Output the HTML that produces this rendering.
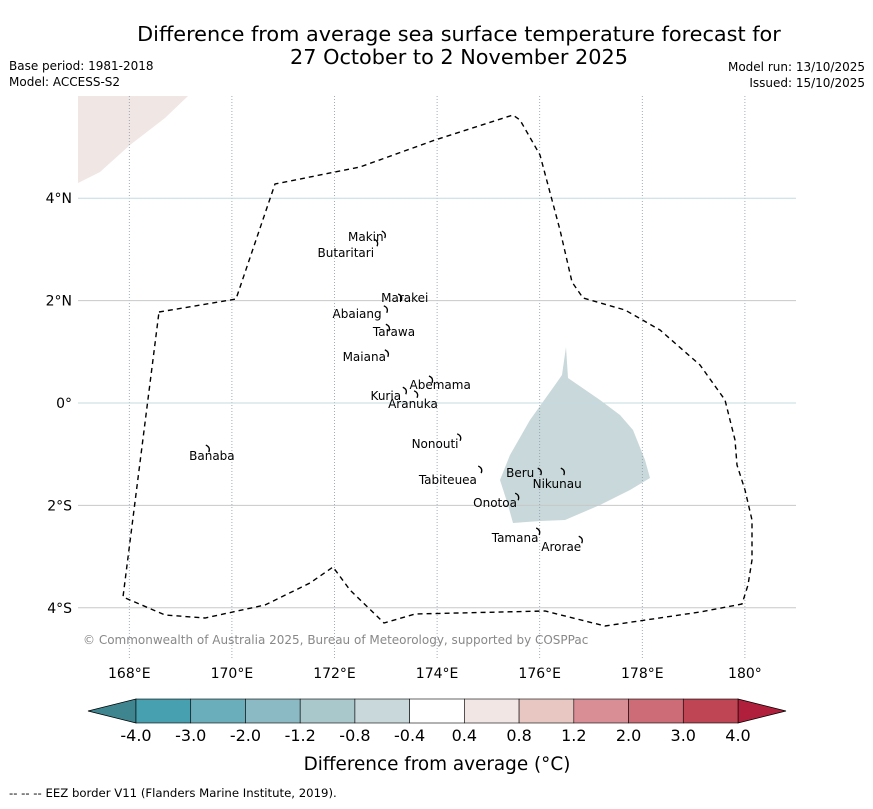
<!DOCTYPE html>
<html><head><meta charset="utf-8"><style>
body{margin:0;background:#fff;font-family:"Liberation Sans","DejaVu Sans",sans-serif}
svg text{font-family:"DejaVu Sans","Liberation Sans",sans-serif}
</style></head><body>
<svg id="chart" width="873" height="804" viewBox="0 0 873 804">
<text x="459" y="41" font-size="20.8" text-anchor="middle">Difference from average sea surface temperature forecast for</text>
<text x="459" y="64" font-size="20.8" text-anchor="middle">27 October to 2 November 2025</text>
<text x="9" y="70" font-size="12">Base period: 1981-2018</text>
<text x="9" y="86" font-size="12">Model: ACCESS-S2</text>
<text x="865" y="71" font-size="12" text-anchor="end">Model run: 13/10/2025</text>
<text x="865" y="87" font-size="12" text-anchor="end">Issued: 15/10/2025</text>
<g id="map">
<polygon points="78,96 188,96 165,118 130,145 100,172 78,183" fill="#f0e6e4"/>
<polygon points="566,347 568,378 600,400 620,415 633,430 645,460 650,478 630,490 600,505 565,520 540,521 513,523 508,505 500,480 510,455 530,420 555,385 562,375" fill="#c9d8da"/>
<g id="grid"></g>
<path d="M159,312 L236,299 L275,184 L360,167 L435,140 L513,115 L520,120 L540,155 L548,185 L560,230 L572,282 L583,298 L625,310 L660,330 L700,365 L725,400 L735,440 L737,465 L745,490 L752,520 L752,560 L748,585 L742,604 L700,612 L605,626 L545,611 L415,614 L384,623 L350,590 L333,567 L310,583 L265,605 L205,618 L165,615 L123,597 Z" fill="none" stroke="#000" stroke-width="1.4" stroke-dasharray="5,4"/>
<g id="islands"></g>
</g>
<text x="83" y="644" font-size="12" fill="#888">© Commonwealth of Australia 2025, Bureau of Meteorology, supported by COSPPac</text>
<g id="cbar"></g>
<text x="437" y="770" font-size="18.4" text-anchor="middle">Difference from average (°C)</text>
<text x="9" y="797" font-size="11.7">--  --  -- EEZ border V11 (Flanders Marine Institute, 2019).</text>
</svg>
<script>
const lonTicks=[168,170,172,174,176,178,180];
const lonLabels=["168°E","170°E","172°E","174°E","176°E","178°E","180°"];
const latTicks=[4,2,0,-2,-4];
const latLabels=["4°N","2°N","0°","2°S","4°S"];
const islandNames=["Makin","Butaritari","Marakei","Abaiang","Tarawa","Maiana","Abemama","Kuria","Aranuka","Nonouti","Banaba","Tabiteuea","Beru","Nikunau","Onotoa","Tamana","Arorae"];
const islandLon=[172.96,172.81,173.28,173.0,173.04,173.02,173.88,173.37,173.59,174.43,169.53,174.84,176.0,176.45,175.56,175.97,176.8];
const islandLat=[3.28,3.12,2.05,1.82,1.46,0.96,0.45,0.23,0.16,-0.68,-0.90,-1.31,-1.35,-1.35,-1.84,-2.52,-2.68];
const labelLon=[172.61,172.22,173.37,172.44,173.16,172.58,174.06,173.0,173.53,173.96,169.61,174.21,175.62,176.34,175.13,175.52,176.42];
const labelLat=[3.24,2.93,2.05,1.74,1.39,0.90,0.35,0.14,-0.02,-0.80,-1.04,-1.50,-1.37,-1.58,-1.95,-2.64,-2.81];
const cbBounds=["-4.0","-3.0","-2.0","-1.2","-0.8","-0.4","0.4","0.8","1.2","2.0","3.0","4.0"];
const cbColors=["#46a0b0","#6aaebb","#8bbac4","#a9c8cc","#c9d8da","#ffffff","#f1e6e4","#e8c7c3","#d98e96","#cd6b76","#c04554"];
const NS="http://www.w3.org/2000/svg";
const x=lon=>78+(lon-167)*51.3;
const y=lat=>403-lat*51.2;
function mk(t,a,p){const e=document.createElementNS(NS,t);for(const k in a)e.setAttribute(k,a[k]);p.appendChild(e);return e;}
const g=document.getElementById('grid'),svg=document.getElementById('chart');
lonTicks.forEach((v,i)=>{
 const l=mk('line',{x1:x(v),x2:x(v),y1:96,y2:658,stroke:'#8899aa','stroke-width':0.8,'stroke-dasharray':'1,2'},g);
 
 
 const t=mk('text',{x:x(v),y:678,'font-size':14,'text-anchor':'middle'},svg);t.textContent=lonLabels[i];
 
 
});
latTicks.forEach((v,i)=>{
 const l=mk('line',{x1:78,x2:796,y1:y(v),y2:y(v),stroke:(v==4||v==0)?'#c4dbe0':'#c8c8c8','stroke-width':1},g);
 
 
 const t=mk('text',{x:72,y:y(v)+5,'font-size':14,'text-anchor':'end'},svg);t.textContent=latLabels[i];
 
 
});
const ig=document.getElementById('islands');
islandNames.forEach((n,i)=>{
 const px=x(islandLon[i]),py=y(islandLat[i]);
 const m=mk('path',{d:`M${px-2},${py-4} q5,2 3,7`,stroke:'#000','stroke-width':1.3,fill:'none'},ig);
 
 
 const t=mk('text',{x:x(labelLon[i]),y:y(labelLat[i])+4,'font-size':12,'text-anchor':'middle'},ig);t.textContent=n;
 
 
});
const cb=document.getElementById('cbar');
const cx0=136,cw=(738-136)/cbColors.length,cy=699,ch=24;
const lt=mk('polygon',{points:`${cx0},${cy} ${cx0},${cy+ch} 88,${cy+ch/2}`,fill:'#3e8590',stroke:'#000','stroke-width':0.8},cb);


const rt=mk('polygon',{points:`738,${cy} 738,${cy+ch} 786,${cy+ch/2}`,fill:'#b0203c',stroke:'#000','stroke-width':0.8},cb);


cbColors.forEach((c,i)=>{
 const r=mk('rect',{x:cx0+i*cw,y:cy,width:cw,height:ch,fill:c,stroke:'#000','stroke-width':0.6},cb);
 
 
});
cbBounds.forEach((b,i)=>{
 const t=mk('text',{x:cx0+i*cw,y:741,'font-size':16,'text-anchor':'middle'},cb);t.textContent=b;
 
 
});
</script>
</body></html>
